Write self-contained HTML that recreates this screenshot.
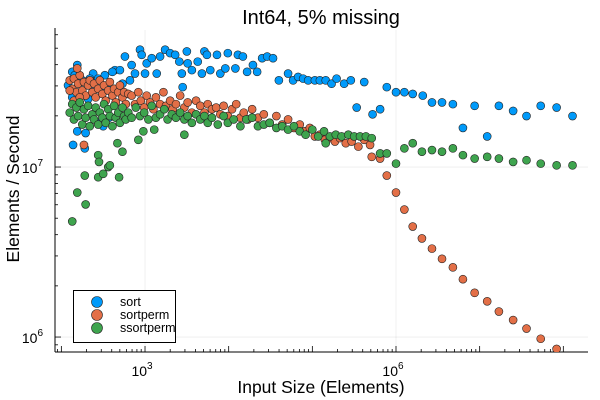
<!DOCTYPE html>
<html><head><meta charset="utf-8"><style>
html,body{margin:0;padding:0;background:#fff}
svg{display:block;font-family:"Liberation Sans","DejaVu Sans",sans-serif}
</style></head><body>
<svg id="chart" width="600" height="400" viewBox="0 0 600 400" xmlns="http://www.w3.org/2000/svg">
<defs><clipPath id="pa"><rect x="55" y="28" width="535" height="324"/></clipPath></defs>
<text x="321" y="24" font-size="20" text-anchor="middle" fill="#000">Int64, 5% missing</text>
<text x="321" y="393" font-size="17.5" text-anchor="middle" fill="#000">Input Size (Elements)</text>
<text x="0" y="0" font-size="17.5" text-anchor="middle" fill="#000" transform="translate(19,189) rotate(-90)">Elements / Second</text>
<g id="grid"></g>
<g id="axes"></g>
<g id="marks" clip-path="url(#pa)"></g>
<g id="legend"></g>
</svg>
<script>
// log10(input size) and log10(elements/second)
const sortLogN = [2.13,2.19,2.13,2.19,2.14,2.28,2.29,2.44,2.50,2.57,2.22,2.32,2.38,2.44,2.52,2.64,2.70,2.76,2.84,2.94,2.96,3.02,3.08,3.14,3.18,3.24,3.30,3.36,3.41,3.50,3.44,3.45,3.51,3.56,3.63,3.71,3.74,3.78,3.86,3.90,3.96,3.99,3.68,2.88,3.00,2.82,2.73,2.56,2.49,2.40,2.16,2.25,2.34,2.08,2.61,4.11,4.17,4.40,4.46,4.53,4.08,4.22,4.29,4.34,4.71,4.60,4.77,4.83,4.89,4.95,5.03,5.09,5.16,5.23,5.29,5.38,5.46,5.62,5.53,5.72,5.81,5.89,6.00,6.10,6.20,6.32,6.43,6.55,6.68,6.80,6.94,7.09,7.23,7.40,7.56,7.73,7.92,8.11];
const sortLogRate = [7.56,7.60,7.41,7.21,7.13,7.11,7.20,7.26,7.24,7.29,7.41,7.40,7.55,7.52,7.54,7.57,7.57,7.65,7.60,7.69,7.66,7.61,7.64,7.55,7.65,7.69,7.67,7.66,7.62,7.68,7.55,7.47,7.61,7.57,7.62,7.68,7.66,7.57,7.66,7.55,7.58,7.67,7.55,7.55,7.55,7.51,7.49,7.47,7.46,7.47,7.54,7.51,7.52,7.48,7.56,7.66,7.65,7.64,7.65,7.64,7.58,7.56,7.60,7.56,7.55,7.51,7.51,7.53,7.52,7.51,7.51,7.51,7.51,7.49,7.52,7.49,7.51,7.50,7.35,7.31,7.34,7.47,7.44,7.44,7.43,7.42,7.38,7.38,7.37,7.23,7.36,7.18,7.36,7.33,7.30,7.36,7.35,7.30];
const sortpermLogN = [2.10,2.13,2.15,2.18,2.20,2.22,2.25,2.27,2.29,2.32,2.34,2.37,2.39,2.41,2.44,2.46,2.49,2.51,2.53,2.56,2.58,2.61,2.63,2.65,2.68,2.70,2.73,2.75,2.77,2.80,2.19,2.27,2.80,2.10,2.15,2.22,2.84,2.88,2.92,2.95,2.99,3.02,3.06,3.10,3.13,3.18,3.22,3.25,3.30,3.33,3.37,3.42,3.47,3.51,3.56,3.61,3.66,3.71,3.75,3.80,3.85,3.90,3.94,3.99,4.04,4.09,4.14,4.18,4.23,4.28,4.35,4.42,4.49,4.57,4.64,4.71,4.78,4.85,4.91,4.97,5.03,5.09,5.15,5.21,5.27,5.33,5.40,5.47,5.55,5.62,5.69,5.71,5.81,5.89,6.00,6.10,6.20,6.31,6.43,6.55,6.68,6.80,6.94,7.09,7.23,7.40,7.56,7.73,7.92,8.11];
const sortpermLogRate = [7.51,7.46,7.52,7.44,7.49,7.54,7.45,7.50,7.42,7.48,7.51,7.44,7.49,7.41,7.46,7.51,7.43,7.48,7.39,7.45,7.50,7.42,7.46,7.38,7.44,7.48,7.41,7.44,7.37,7.43,7.58,7.13,7.31,7.45,7.39,7.41,7.42,7.37,7.44,7.39,7.35,7.42,7.38,7.34,7.41,7.37,7.44,7.36,7.39,7.34,7.37,7.42,7.35,7.38,7.32,7.39,7.36,7.32,7.37,7.34,7.35,7.31,7.36,7.30,7.34,7.37,7.29,7.32,7.28,7.34,7.29,7.31,7.26,7.30,7.25,7.28,7.23,7.25,7.21,7.23,7.18,7.19,7.16,7.17,7.15,7.17,7.14,7.15,7.12,7.16,7.13,7.06,7.05,6.95,6.85,6.75,6.65,6.58,6.52,6.46,6.41,6.34,6.26,6.21,6.15,6.10,6.05,5.99,5.93,5.88];
const ssortpermLogN = [2.10,2.13,2.15,2.18,2.20,2.22,2.25,2.27,2.29,2.32,2.34,2.37,2.39,2.41,2.44,2.46,2.49,2.51,2.53,2.56,2.58,2.61,2.63,2.65,2.68,2.70,2.73,2.75,2.77,2.80,2.84,2.89,2.94,2.99,3.04,3.08,3.13,3.18,3.23,3.27,3.32,3.37,3.42,3.47,3.51,3.56,3.61,3.66,3.71,3.75,3.80,3.87,3.94,3.99,4.06,4.14,4.21,4.28,4.35,4.42,4.49,4.57,4.64,4.71,4.78,4.85,4.92,5.00,5.07,5.14,5.21,5.28,5.35,5.43,5.50,5.57,5.64,5.71,5.16,2.13,2.19,2.29,2.28,2.44,2.50,2.56,2.58,2.44,2.45,2.67,2.73,2.69,2.92,2.98,3.11,3.47,5.81,5.89,6.00,6.10,6.20,6.31,6.43,6.55,6.68,6.80,6.94,7.09,7.23,7.40,7.56,7.73,7.92,8.11];
const ssortpermLogRate = [7.32,7.37,7.28,7.35,7.30,7.38,7.25,7.34,7.29,7.36,7.24,7.31,7.28,7.35,7.25,7.32,7.29,7.37,7.26,7.34,7.30,7.24,7.36,7.29,7.32,7.26,7.35,7.30,7.28,7.32,7.29,7.35,7.30,7.32,7.28,7.36,7.29,7.31,7.34,7.28,7.31,7.29,7.32,7.28,7.30,7.26,7.31,7.28,7.30,7.26,7.29,7.25,7.30,7.26,7.28,7.24,7.28,7.29,7.24,7.25,7.26,7.23,7.24,7.22,7.24,7.21,7.19,7.22,7.18,7.21,7.18,7.19,7.18,7.19,7.18,7.18,7.18,7.17,7.14,6.68,6.85,6.78,6.95,6.94,6.96,7.00,7.01,7.07,7.03,7.14,7.09,6.94,7.16,7.21,7.22,7.19,7.08,7.08,7.02,7.11,7.14,7.09,7.10,7.09,7.11,7.07,7.05,7.06,7.05,7.03,7.04,7.02,7.01,7.01];
const seriesNames = ["sort","sortperm","ssortperm"];
const xMajorTicks = [3,6];
const yMajorTicks = [6,7];
const xTickLabels = ["3","6"];
const yTickLabels = ["6","7"];

const NS="http://www.w3.org/2000/svg";
const X0=55,X1=588,Y0=352,Y1=30;
const XD=[1.924,8.295], YD=[5.912,7.806];
function sx(v){return X0+(v-XD[0])/(XD[1]-XD[0])*(X1-X0);}
function sy(v){return Y0-(v-YD[0])/(YD[1]-YD[0])*(Y0-Y1);}
function mk(tag,attrs,parent){const e=document.createElementNS(NS,tag);for(const k in attrs)e.setAttribute(k,attrs[k]);parent.appendChild(e);return e;}
const grid=document.getElementById('grid'),axes=document.getElementById('axes'),marks=document.getElementById('marks'),legend=document.getElementById('legend');

xMajorTicks.forEach((t,i)=>{
  const g=mk('line',{x1:sx(t),x2:sx(t),y1:Y1,y2:Y0,stroke:'#000','stroke-opacity':0.1,'stroke-width':0.6},grid);
  
  
  const tx=mk('text',{x:sx(t)-3,y:376,'font-size':14,'text-anchor':'middle'},axes);
  
  
  tx.textContent='10';
  const sp=mk('tspan',{dy:-7,'font-size':10},tx);sp.textContent=xTickLabels[i];
});
yMajorTicks.forEach((t,i)=>{
  const g=mk('line',{x1:X0,x2:X1,y1:sy(t),y2:sy(t),stroke:'#000','stroke-opacity':0.1,'stroke-width':0.6},grid);
  
  
  const tx=mk('text',{x:43,y:sy(t)+6,'font-size':14,'text-anchor':'end'},axes);
  
  
  tx.textContent='10';
  const sp=mk('tspan',{dy:-7,'font-size':10},tx);sp.textContent=yTickLabels[i];
});
const xa=mk('line',{x1:X0,x2:X1,y1:Y0,y2:Y0,stroke:'#000','stroke-width':1},axes);


const ya=mk('line',{x1:X0,x2:X0,y1:Y0,y2:Y1-2,stroke:'#000','stroke-width':1},axes);


for(let d=1;d<=8;d++){for(let k=1;k<=9;k++){const v=d+Math.log10(k);if(v<XD[0]||v>XD[1])continue;const len=(k===1)?6:3;
  const t=mk('line',{x1:sx(v),x2:sx(v),y1:Y0,y2:Y0-len,stroke:'#000','stroke-width':0.8},axes);
  
  }}
for(let d=5;d<=7;d++){for(let k=1;k<=9;k++){const v=d+Math.log10(k);if(v<YD[0]||v>YD[1])continue;const len=(k===1)?6:3;
  const t=mk('line',{x1:X0,x2:X0+len,y1:sy(v),y2:sy(v),stroke:'#000','stroke-width':0.8},axes);
  
  }}

const colors=['#009AFA','#E36F47','#3EA44E'];
const series=[[sortLogN,sortLogRate],[sortpermLogN,sortpermLogRate],[ssortpermLogN,ssortpermLogRate]];
series.forEach((s,si)=>{
  s[0].forEach((xv,i)=>{
    const c=mk('circle',{cx:sx(xv),cy:sy(s[1][i]),r:4,fill:colors[si],stroke:'#222','stroke-width':0.6},marks);
    
    
  });
});
const lb=mk('rect',{x:73.5,y:290.5,width:102,height:52,fill:'#fff',stroke:'#000','stroke-width':1},legend);


seriesNames.forEach((n,i)=>{
  const y=302+i*13;
  const c=mk('circle',{cx:97,cy:y,r:5.5,fill:colors[i],stroke:'#222','stroke-width':0.6},legend);
  
  
  const t=mk('text',{x:120,y:y+4,'font-size':12.5},legend);
  
  
  t.textContent=n;
});
</script>
</body></html>
